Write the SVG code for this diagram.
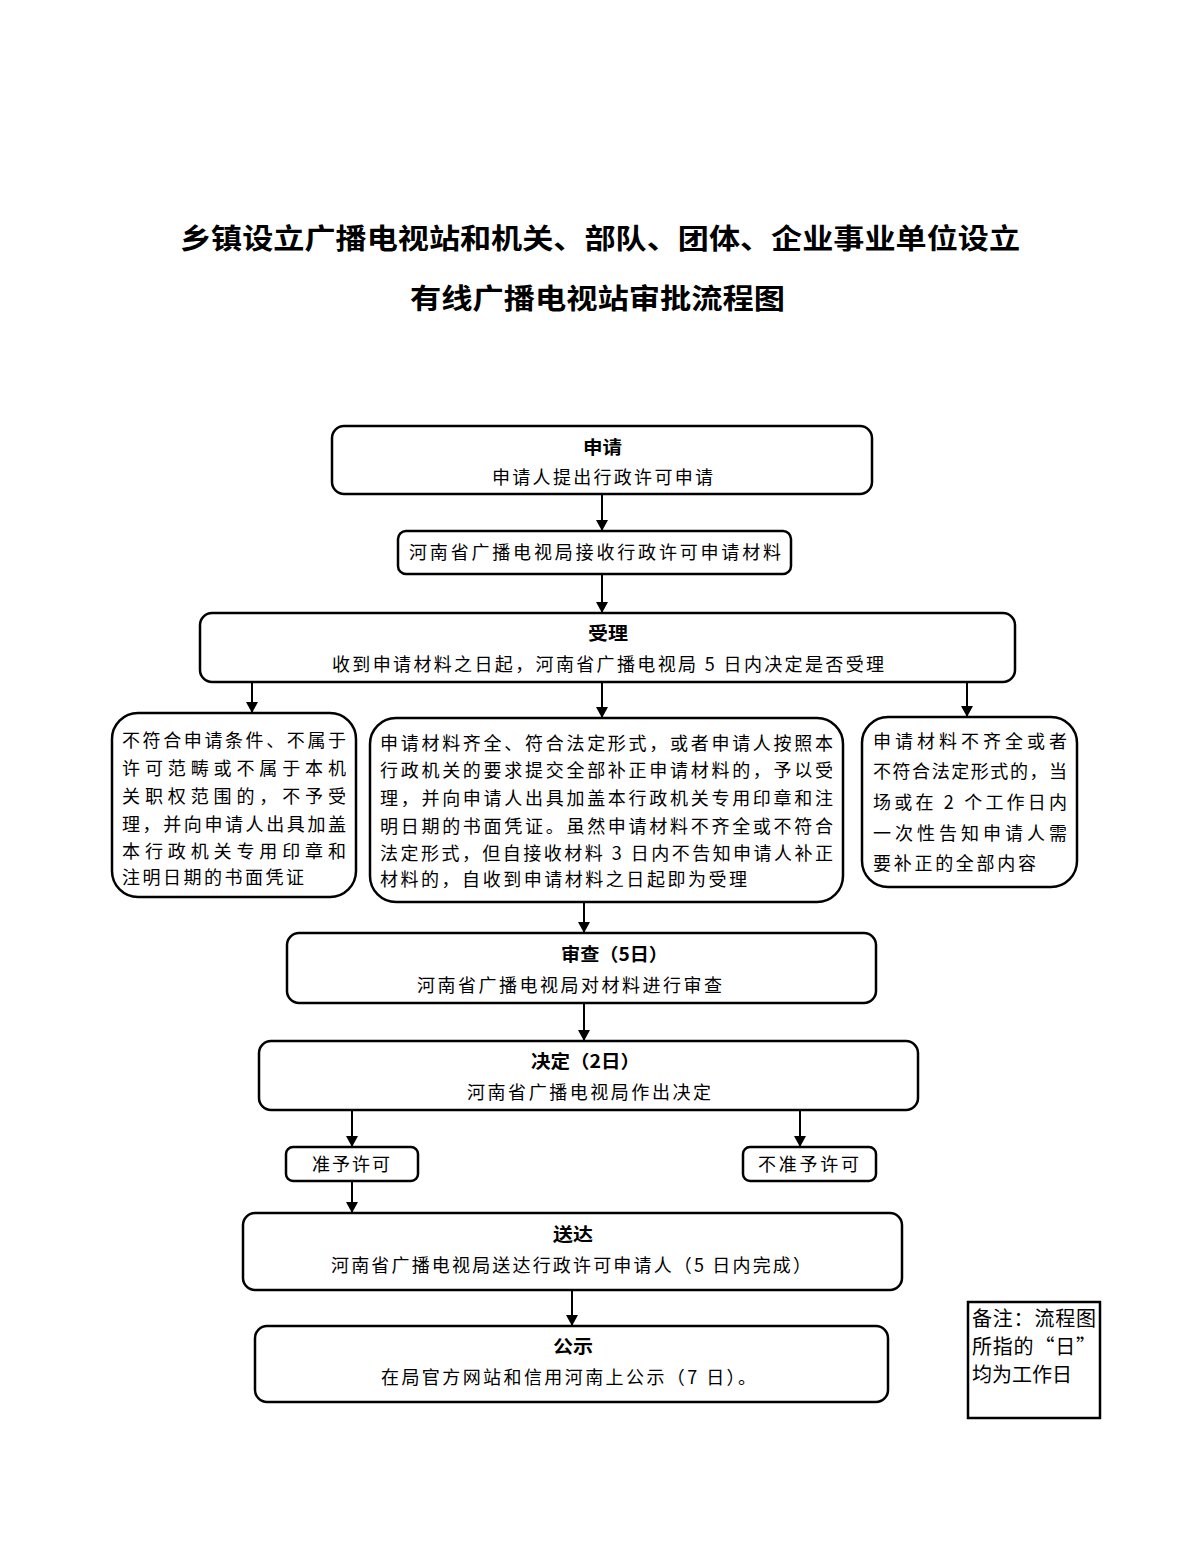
<svg xmlns="http://www.w3.org/2000/svg" width="1200" height="1553" viewBox="0 0 1200 1553">
<defs>
<marker id="ah" markerWidth="12" markerHeight="12" refX="10" refY="6" orient="auto" markerUnits="userSpaceOnUse">
<path d="M0,0 L11,6 L0,12 Z" fill="#000"/>
</marker>
<style>
.box{fill:#fff;stroke:#000;stroke-width:2.5}
.t{font-family:"Noto Sans CJK SC","Noto Sans",sans-serif;font-size:18px;fill:#000}
.h{font-family:"Noto Sans CJK SC","Noto Sans",sans-serif;font-size:18px;font-weight:bold;fill:#000}
.title{font-family:"Noto Sans CJK SC","Noto Sans",sans-serif;font-size:28px;font-weight:bold;fill:#000}
.c{stroke:#000;stroke-width:2;fill:none;marker-end:url(#ah)}
</style>
</defs>
<rect width="1200" height="1553" fill="#fff"/>
<g id="title">
<text class="title" x="180" y="249" textLength="840" lengthAdjust="spacingAndGlyphs">乡镇设立广播电视站和机关、部队、团体、企业事业单位设立</text>
<text class="title" x="410" y="309" textLength="375" lengthAdjust="spacingAndGlyphs">有线广播电视站审批流程图</text>
</g>
<g id="connectors">
<line class="c" x1="602" y1="495" x2="602" y2="530"/>
<line class="c" x1="602" y1="575" x2="602" y2="612"/>
<line class="c" x1="252" y1="683" x2="252" y2="712"/>
<line class="c" x1="602" y1="683" x2="602" y2="717"/>
<line class="c" x1="967" y1="683" x2="967" y2="716"/>
<line class="c" x1="584" y1="903" x2="584" y2="932"/>
<line class="c" x1="584" y1="1004" x2="584" y2="1040"/>
<line class="c" x1="352" y1="1111" x2="352" y2="1146"/>
<line class="c" x1="800" y1="1111" x2="800" y2="1146"/>
<line class="c" x1="352" y1="1182" x2="352" y2="1212"/>
<line class="c" x1="572" y1="1291" x2="572" y2="1325"/>
</g>
<g id="n1">
<rect class="box" x="332" y="426" width="540" height="68" rx="12"/>
<text class="h" x="583" y="454" textLength="39" lengthAdjust="spacingAndGlyphs">申请</text>
<text class="t" x="492" y="484" textLength="221" lengthAdjust="spacing">申请人提出行政许可申请</text>
</g>
<g id="n2">
<rect class="box" x="398" y="531" width="393" height="43" rx="8"/>
<text class="t" x="409" y="559" textLength="372" lengthAdjust="spacing">河南省广播电视局接收行政许可申请材料</text>
</g>
<g id="n3">
<rect class="box" x="200" y="613" width="815" height="69" rx="12"/>
<text class="h" x="588" y="640" textLength="40" lengthAdjust="spacingAndGlyphs">受理</text>
<text class="t" x="332" y="671" textLength="552" lengthAdjust="spacing">收到申请材料之日起，河南省广播电视局 5 日内决定是否受理</text>
</g>
<g id="n4">
<rect class="box" x="112" y="713" width="244" height="184" rx="26"/>
<text class="t" x="122" y="747" textLength="224" lengthAdjust="spacing">不符合申请条件、不属于</text>
<text class="t" x="122" y="775" textLength="224" lengthAdjust="spacing">许可范畴或不属于本机</text>
<text class="t" x="122" y="803" textLength="224" lengthAdjust="spacing">关职权范围的，不予受</text>
<text class="t" x="122" y="831" textLength="224" lengthAdjust="spacing">理，并向申请人出具加盖</text>
<text class="t" x="122" y="858" textLength="224" lengthAdjust="spacing">本行政机关专用印章和</text>
<text class="t" x="122" y="884" textLength="182" lengthAdjust="spacing">注明日期的书面凭证</text>
</g>
<g id="n5">
<rect class="box" x="370" y="718" width="473" height="184" rx="26"/>
<text class="t" x="380" y="750" textLength="453" lengthAdjust="spacing">申请材料齐全、符合法定形式，或者申请人按照本</text>
<text class="t" x="380" y="777" textLength="453" lengthAdjust="spacing">行政机关的要求提交全部补正申请材料的，予以受</text>
<text class="t" x="380" y="805" textLength="453" lengthAdjust="spacing">理，并向申请人出具加盖本行政机关专用印章和注</text>
<text class="t" x="380" y="833" textLength="453" lengthAdjust="spacing">明日期的书面凭证。虽然申请材料不齐全或不符合</text>
<text class="t" x="380" y="860" textLength="453" lengthAdjust="spacing">法定形式，但自接收材料 3 日内不告知申请人补正</text>
<text class="t" x="380" y="886" textLength="367" lengthAdjust="spacing">材料的，自收到申请材料之日起即为受理</text>
</g>
<g id="n6">
<rect class="box" x="862" y="717" width="215" height="170" rx="26"/>
<text class="t" x="873" y="748" textLength="194" lengthAdjust="spacing">申请材料不齐全或者</text>
<text class="t" x="873" y="778" textLength="194" lengthAdjust="spacing">不符合法定形式的，当</text>
<text class="t" x="873" y="809" textLength="194" lengthAdjust="spacing">场或在 2 个工作日内</text>
<text class="t" x="873" y="840" textLength="194" lengthAdjust="spacing">一次性告知申请人需</text>
<text class="t" x="873" y="870" textLength="163" lengthAdjust="spacing">要补正的全部内容</text>
</g>
<g id="n7">
<rect class="box" x="287" y="933" width="589" height="70" rx="12"/>
<text class="h" x="561" y="961" textLength="107" lengthAdjust="spacingAndGlyphs">审查（5日）</text>
<text class="t" x="417" y="992" textLength="305" lengthAdjust="spacing">河南省广播电视局对材料进行审查</text>
</g>
<g id="n8">
<rect class="box" x="259" y="1041" width="659" height="69" rx="12"/>
<text class="h" x="531" y="1068" textLength="109" lengthAdjust="spacingAndGlyphs">决定（2日）</text>
<text class="t" x="467" y="1099" textLength="244" lengthAdjust="spacing">河南省广播电视局作出决定</text>
</g>
<g id="n9">
<rect class="box" x="286" y="1147" width="132" height="34" rx="7"/>
<text class="t" x="312" y="1171" textLength="78" lengthAdjust="spacing">准予许可</text>
</g>
<g id="n10">
<rect class="box" x="743" y="1147" width="133" height="34" rx="7"/>
<text class="t" x="758" y="1171" textLength="101" lengthAdjust="spacing">不准予许可</text>
</g>
<g id="n11">
<rect class="box" x="243" y="1213" width="659" height="77" rx="12"/>
<text class="h" x="553" y="1241" textLength="40" lengthAdjust="spacingAndGlyphs">送达</text>
<text class="t" x="331" y="1272" textLength="480" lengthAdjust="spacing">河南省广播电视局送达行政许可申请人（5 日内完成）</text>
</g>
<g id="n12">
<rect class="box" x="255" y="1326" width="633" height="76" rx="12"/>
<text class="h" x="553" y="1353" textLength="40" lengthAdjust="spacingAndGlyphs">公示</text>
<text class="t" x="381" y="1384" textLength="375" lengthAdjust="spacing">在局官方网站和信用河南上公示（7 日）。</text>
</g>
<g id="note">
<rect x="968" y="1302" width="132" height="116" fill="#fff" stroke="#000" stroke-width="2.5"/>
<text class="t" x="972" y="1326" font-size="20" textLength="124" lengthAdjust="spacing" style="font-size:20px">备注：流程图</text>
<text class="t" x="972" y="1354" style="font-size:20px" textLength="124" lengthAdjust="spacing">所指的“日”</text>
<text class="t" x="972" y="1382" style="font-size:20px">均为工作日</text>
</g>
</svg>
